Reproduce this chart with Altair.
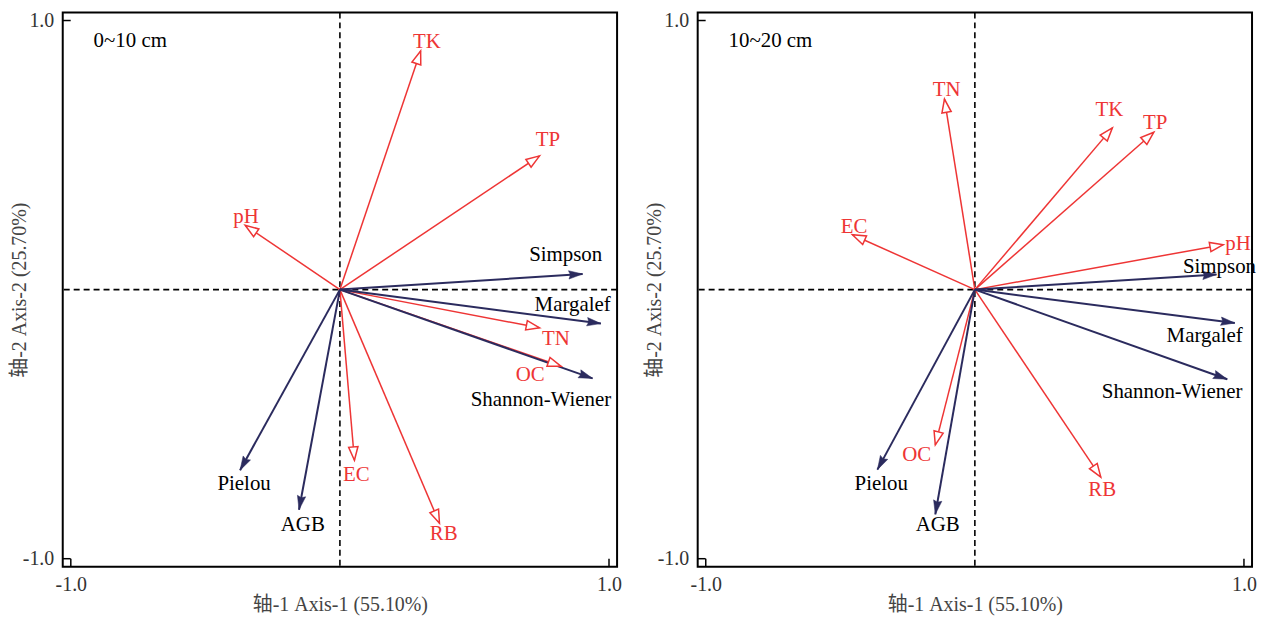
import math
import altair as alt
import pandas as pd

# ---------------- data ----------------
variables = ["TK", "TP", "pH", "TN", "OC", "EC", "RB",
             "Simpson", "Margalef", "Shannon-Wiener", "Pielou", "AGB"]
groups = ["soil"] * 7 + ["diversity"] * 5

# 0~10 cm : arrow tips (axis-1, axis-2) and label anchors
axis1_0_10 = [0.300, 0.742, -0.352, 0.742, 0.822, 0.054, 0.370, 0.902, 0.970, 0.939, -0.371, -0.152]
axis2_0_10 = [0.887, 0.497, 0.239, -0.142, -0.285, -0.634, -0.868, 0.058, -0.126, -0.330, -0.671, -0.818]
label1_0_10 = [0.323, 0.773, -0.349, 0.803, 0.707, 0.061, 0.386, 0.839, 0.865, 0.747, -0.356, -0.138]
label2_0_10 = [0.921, 0.555, 0.268, -0.183, -0.319, -0.688, -0.910, 0.127, -0.057, -0.411, -0.721, -0.873]

# 10~20 cm
axis1_10_20 = [0.511, 0.665, 0.923, -0.113, -0.147, -0.455, 0.468, 0.898, 0.966, 0.938, -0.362, -0.147]
axis2_10_20 = [0.601, 0.585, 0.167, 0.708, -0.577, 0.204, -0.697, 0.056, -0.124, -0.333, -0.669, -0.835]
label1_10_20 = [0.500, 0.670, 0.978, -0.105, -0.216, -0.449, 0.473, 0.909, 0.854, 0.733, -0.348, -0.138]
label2_10_20 = [0.668, 0.620, 0.170, 0.742, -0.616, 0.232, -0.745, 0.083, -0.173, -0.380, -0.723, -0.875]

depths = ["0~10 cm", "10~20 cm"]
tick_values = [-1.0, 1.0]
x_title = "轴-1 Axis-1 (55.10%)"
y_title = "轴-2 Axis-2 (25.70%)"

# ---------------- style ----------------
FONT = "Liberation Serif, Noto Sans CJK SC"
RED = "#ee3535"
NAVY = "#2b2b5e"
W = 557
H = 557
DOMAIN = [-1.03, 1.03]
HOLLOW_HEAD = "M0,0L-0.7,2L0.7,2Z"
FILLED_HEAD = "M0,0L-0.6,2L0,1.75L0.6,2Z"
LABEL_EXPR = "datum.value < 0 ? '-' + format(-datum.value, '.1f') : format(datum.value, '.1f')"


def panel(a1, a2, l1, l2, depth):
    df = pd.DataFrame({"var": variables, "group": groups,
                       "x": a1, "y": a2, "lx": l1, "ly": l2})
    df["ox"] = 0.0
    df["oy"] = 0.0
    df["angle"] = [(math.degrees(math.atan2(dx, dy)) + 360.0) % 360.0
                   for dx, dy in zip(a1, a2)]

    xs = alt.Scale(domain=DOMAIN, nice=False, zero=False)
    ys = alt.Scale(domain=DOMAIN, nice=False, zero=False)
    common = dict(values=tick_values, labelExpr=LABEL_EXPR, ticks=False, domain=False,
                  grid=False, labelFlush=False, labelFont=FONT, titleFont=FONT,
                  labelFontSize=20, titleFontSize=20, titleFontWeight="normal",
                  labelColor="#333333", titleColor="#444444")
    xaxis = alt.Axis(title=x_title, labelPadding=8, titlePadding=0, **common)
    yaxis = alt.Axis(title=y_title, labelPadding=9, titlePadding=-7, **common)

    zero_df = pd.DataFrame({"v": [0.0]})
    ticks_df = pd.DataFrame({"t": tick_values})

    vdash = alt.Chart(zero_df).mark_rule(color="black", strokeDash=[6, 4], strokeWidth=1.6).encode(
        x=alt.X("v:Q", scale=xs, axis=xaxis))
    hdash = alt.Chart(zero_df).mark_rule(color="black", strokeDash=[6, 4], strokeWidth=1.6).encode(
        y=alt.Y("v:Q", scale=ys, axis=yaxis))

    xticks = alt.Chart(ticks_df).mark_rule(color="black", strokeWidth=1.5).encode(
        x=alt.X("t:Q", scale=xs, axis=xaxis), y=alt.value(H), y2=alt.value(H - 8))
    yticks = alt.Chart(ticks_df).mark_rule(color="black", strokeWidth=1.5).encode(
        y=alt.Y("t:Q", scale=ys, axis=yaxis), x=alt.value(0), x2=alt.value(8))

    base = alt.Chart(df)
    lines = base.mark_rule().encode(
        x=alt.X("ox:Q", scale=xs, axis=xaxis), x2="x:Q",
        y=alt.Y("oy:Q", scale=ys, axis=yaxis), y2="y:Q",
        color=alt.condition(alt.datum.group == "soil", alt.value(RED), alt.value(NAVY)),
        strokeWidth=alt.condition(alt.datum.group == "soil", alt.value(1.5), alt.value(2.0)),
    )
    red_heads = base.transform_filter(alt.datum.group == "soil").mark_point(
        shape=HOLLOW_HEAD, size=180, filled=True, fill="white", stroke=RED, strokeWidth=1.5, opacity=1
    ).encode(
        x=alt.X("x:Q", scale=xs, axis=xaxis), y=alt.Y("y:Q", scale=ys, axis=yaxis),
        angle=alt.Angle("angle:Q", scale=None))
    navy_heads = base.transform_filter(alt.datum.group == "diversity").mark_point(
        shape=FILLED_HEAD, size=196, filled=True, fill=NAVY, stroke=NAVY, strokeWidth=0.5, opacity=1
    ).encode(
        x=alt.X("x:Q", scale=xs, axis=xaxis), y=alt.Y("y:Q", scale=ys, axis=yaxis),
        angle=alt.Angle("angle:Q", scale=None))
    labels = base.mark_text(font=FONT, fontSize=21, align="center", baseline="middle").encode(
        x=alt.X("lx:Q", scale=xs, axis=xaxis), y=alt.Y("ly:Q", scale=ys, axis=yaxis),
        text="var:N",
        color=alt.condition(alt.datum.group == "soil", alt.value(RED), alt.value("black")),
    )
    depth_lbl = alt.Chart(pd.DataFrame({"t": [depth]})).mark_text(
        font=FONT, fontSize=21, align="left", baseline="middle", color="black"
    ).encode(text="t:N", x=alt.value(31), y=alt.value(29))

    return alt.layer(vdash, hdash, xticks, yticks, lines, red_heads, navy_heads, labels, depth_lbl
                     ).properties(width=W, height=H)


left = panel(axis1_0_10, axis2_0_10, label1_0_10, label2_0_10, depths[0])
right = panel(axis1_10_20, axis2_10_20, label1_10_20, label2_10_20, depths[1])

chart = alt.hconcat(
    left, right, spacing=20, padding=0, background="white",
).configure_view(stroke="black", strokeWidth=2)

chart.save("out.html", embed_options={"renderer": "svg", "actions": False})
